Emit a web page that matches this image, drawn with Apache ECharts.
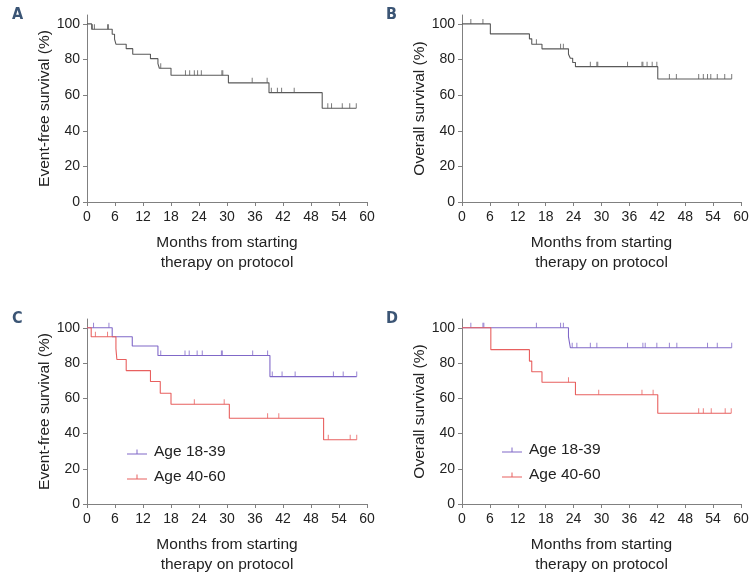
<!DOCTYPE html>
<html><head><meta charset="utf-8">
<script src="https://cdn.jsdelivr.net/npm/echarts@6/dist/echarts.min.js"></script>
<style>html,body{margin:0;padding:0;background:#fff}#c{width:756px;height:576px}</style>
</head><body><div id="c"></div>
<script>
// Panel A: event-free survival (all)
const tA = [0, 1, 5.4, 5.9, 6.2, 8.4, 9.8, 13.6, 15.2, 15.5, 18.0, 30.3, 39.0, 50.4];
const sA = [100, 97, 94.2, 91.4, 88.6, 86.1, 83.0, 80.5, 77.7, 75.1, 71.2, 66.9, 61.4, 52.6];
const cA = [1.2, 1.6, 4.4, 4.6, 15.8, 21.1, 22.0, 23.0, 23.7, 24.5, 28.9, 29.1, 35.4, 38.6, 39.5, 40.8, 41.7, 44.4, 51.6, 52.4, 54.7, 56.3, 57.7];
const endA = 57.7;
// Panel B: overall survival (all)
const tB = [0, 6.1, 14.5, 15.0, 17.2, 22.9, 23.3, 23.8, 24.4, 42.1];
const sB = [100, 94.4, 91.6, 88.6, 86.0, 83.0, 80.7, 78.3, 76.0, 69.1];
const cB = [1.9, 4.5, 16.0, 21.2, 21.8, 27.6, 29.0, 29.2, 35.6, 38.7, 38.9, 39.8, 40.9, 41.9, 44.6, 46.1, 50.9, 51.9, 52.8, 53.5, 54.9, 56.5, 58.0];
const endB = 58.0;
// Panel C: event-free survival by age
const tC1 = [0, 5.4, 9.7, 15.2, 39.2];
const sC1 = [100, 94.9, 89.7, 84.3, 72.3];
const cC1 = [1.4, 4.7, 15.8, 21.0, 21.9, 23.6, 24.7, 28.8, 29.0, 35.5, 38.7, 39.7, 41.8, 44.6, 52.8, 54.9, 57.8];
const endC1 = 57.8;
const tC2 = [0, 0.9, 6.2, 6.4, 8.4, 13.6, 15.7, 18.0, 30.5, 50.7];
const sC2 = [100, 94.9, 88.2, 82.0, 75.7, 69.5, 62.9, 56.6, 48.7, 36.5];
const cC2 = [1.8, 4.4, 23.0, 29.4, 38.7, 41.1, 51.7, 56.4, 57.8];
const endC2 = 57.8;
// Panel D: overall survival by age
const tD1 = [0, 22.9, 23.3];
const sD1 = [100, 94.9, 88.7];
const cD1 = [1.9, 4.5, 4.7, 16.0, 21.2, 21.8, 23.7, 24.7, 27.6, 29.0, 35.6, 38.9, 39.4, 41.9, 44.6, 46.2, 52.8, 54.9, 58.0];
const endD1 = 58.0;
const tD2 = [0, 6.2, 14.5, 15.0, 17.2, 24.4, 42.1];
const sD2 = [100, 87.6, 81.1, 75.1, 69.1, 62.0, 51.5];
const cD2 = [22.9, 29.4, 38.7, 41.1, 50.9, 51.9, 53.6, 56.6, 57.9];
const endD2 = 57.9;

const xTicks = [0, 6, 12, 18, 24, 30, 36, 42, 48, 54, 60];
const yTicks = [0, 20, 40, 60, 80, 100];
const groups = ['Age 18-39', 'Age 40-60'];
const yNames = ['Event-free survival (%)', 'Overall survival (%)', 'Event-free survival (%)', 'Overall survival (%)'];
const xName = 'Months from starting\ntherapy on protocol';
const panelLabels = ['A', 'B', 'C', 'D'];

const GRAY = '#5a5a5a', PURPLE = '#8068c8', RED = '#e8605f';

function stepData(t, s, end) {
  const d = t.map((v, i) => [v, s[i]]);
  d.push([end, s[s.length - 1]]);
  return d;
}
function censData(t, s, c) {
  return c.map(x => {
    let i = 0;
    for (let k = 0; k < t.length; k++) if (t[k] <= x) i = k;
    return [x, s[i]];
  });
}

const grids = [
  {left: 87, top: 15, width: 280, height: 187},
  {left: 462, top: 15, width: 279, height: 187},
  {left: 87, top: 319, width: 280, height: 188},
  {left: 462, top: 319, width: 279, height: 188}
];
const font = 'Liberation Sans, Arial, sans-serif';
const axisLine = {lineStyle: {color: '#808080', width: 1}};
const xAxes = grids.map((g, i) => ({
  type: 'value', gridIndex: i, min: 0, max: 60, interval: 6,
  axisLine: {show: true, onZero: false, ...axisLine},
  axisTick: {show: true, length: 4, lineStyle: {color: '#808080'}},
  splitLine: {show: false},
  axisLabel: {customValues: xTicks, color: '#222', fontSize: 14, fontFamily: font, margin: 8},
  name: xName, nameLocation: 'middle', nameGap: 31,
  nameTextStyle: {color: '#222', fontSize: 15.5, fontFamily: font, lineHeight: 20}
}));
const yAxes = grids.map((g, i) => ({
  type: 'value', gridIndex: i, min: 0, max: 105,
  axisLine: {show: true, ...axisLine},
  axisTick: {show: true, length: 4, customValues: yTicks, lineStyle: {color: '#808080'}},
  splitLine: {show: false},
  axisLabel: {customValues: yTicks, color: '#222', fontSize: 14, fontFamily: font, margin: 7},
  name: yNames[i], nameLocation: 'middle', nameGap: 34,
  nameTextStyle: {color: '#222', fontSize: 15.5, fontFamily: font}
}));

function lineSeries(name, idx, t, s, end, color) {
  return {
    name, type: 'line', xAxisIndex: idx, yAxisIndex: idx, step: 'end',
    data: stepData(t, s, end), showSymbol: false, symbol: 'none',
    lineStyle: {color, width: 1.1}, itemStyle: {color}, silent: true, animation: false
  };
}
function censSeries(name, idx, t, s, c, color) {
  return {
    name, type: 'scatter', xAxisIndex: idx, yAxisIndex: idx,
    data: censData(t, s, c), symbol: 'rect', symbolSize: [1, 5], symbolOffset: [0, -2.5],
    itemStyle: {color}, silent: true, animation: false
  };
}

const series = [
  lineSeries('All A', 0, tA, sA, endA, GRAY), censSeries('All A', 0, tA, sA, cA, GRAY),
  lineSeries('All B', 1, tB, sB, endB, GRAY), censSeries('All B', 1, tB, sB, cB, GRAY),
  lineSeries(groups[0], 2, tC1, sC1, endC1, PURPLE), censSeries(groups[0], 2, tC1, sC1, cC1, PURPLE),
  lineSeries(groups[1], 2, tC2, sC2, endC2, RED), censSeries(groups[1], 2, tC2, sC2, cC2, RED),
  lineSeries(groups[0], 3, tD1, sD1, endD1, PURPLE), censSeries(groups[0], 3, tD1, sD1, cD1, PURPLE),
  lineSeries(groups[1], 3, tD2, sD2, endD2, RED), censSeries(groups[1], 3, tD2, sD2, cD2, RED)
];

const icon = 'path://M0,9h20v1h-20z M9.5,5h1v4h-1z';
function legendAt(left, top) {
  return {
    orient: 'vertical', left, top, itemWidth: 20, itemHeight: 10, itemGap: 9,
    selectedMode: false,
    data: groups.map((g, i) => ({name: g, icon, itemStyle: {color: i ? RED : PURPLE}})),
    textStyle: {color: '#222', fontSize: 15.5, fontFamily: font, padding: [0, 0, 0, 2]}
  };
}

const labelPos = [[12, 7], [386, 7], [12, 311], [386, 311]];
const option = {
  backgroundColor: '#fff',
  animation: false,
  title: panelLabels.map((l, i) => ({
    text: l, left: labelPos[i][0], top: labelPos[i][1], padding: 0,
    textStyle: {color: '#3b5575', fontSize: 16, fontWeight: 'bold', fontFamily: 'DejaVu Sans Condensed, Liberation Sans Narrow, sans-serif'}
  })),
  legend: [legendAt(122, 439), legendAt(497, 437)],
  grid: grids,
  xAxis: xAxes,
  yAxis: yAxes,
  series
};
echarts.init(document.getElementById('c'), null, {renderer: 'canvas'}).setOption(option);
</script></body></html>
